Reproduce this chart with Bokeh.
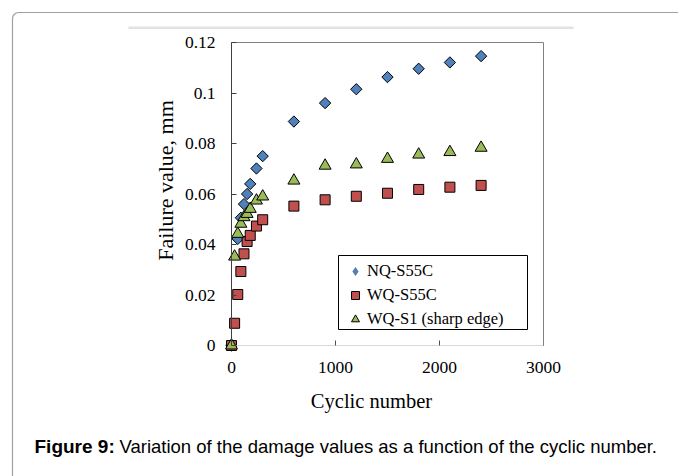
import math
from bokeh.plotting import figure
from bokeh.models import (Range1d, LinearAxis, FixedTicker, Legend, LegendItem,
                          Label, BoxAnnotation, ColumnDataSource)
from bokeh.embed import file_html
from bokeh.resources import INLINE

# ---------------- data ----------------
cycles_nq = [0, 60, 90, 120, 150, 180, 240, 300, 600, 900, 1200, 1500, 1800, 2100, 2400]
failure_nq = [0, 0.0422, 0.0506, 0.0560, 0.0600, 0.0640, 0.0701, 0.0750, 0.0887,
              0.0960, 0.1015, 0.1063, 0.1096, 0.1121, 0.1146]

cycles_wq = [0, 30, 60, 90, 120, 150, 180, 240, 300, 600, 900, 1200, 1500, 1800, 2100, 2400]
failure_wq = [0, 0.0088, 0.0202, 0.0293, 0.0363, 0.0412, 0.0436, 0.0473, 0.0498, 0.0552,
              0.0577, 0.0591, 0.0603, 0.0618, 0.0627, 0.0634]

cycles_s1 = [0, 30, 60, 90, 120, 150, 180, 240, 300, 600, 900, 1200, 1500, 1800, 2100, 2400]
failure_s1 = [0, 0.0352, 0.0442, 0.0482, 0.0508, 0.0521, 0.0541, 0.0574, 0.0590, 0.0653,
              0.0712, 0.0717, 0.0739, 0.0756, 0.0766, 0.0783]

series_names = ["NQ-S55C", "WQ-S55C", "WQ-S1 (sharp edge)"]
x_ticks = [0, 1000, 2000, 3000]
y_ticks = [0, 0.02, 0.04, 0.06, 0.08, 0.1, 0.12]
y_tick_labels = ["0", "0.02", "0.04", "0.06", "0.08", "0.1", "0.12"]
x_title = "Cyclic number"
y_title = "Failure value, mm"
caption_bold = "Figure 9:"
caption_text = "Variation of the damage values as a function of the cyclic number."

# ---------------- layout ----------------
W, H = 678, 476
X_MAX, Y_MAX = 3000, 0.12
X0, Y0 = 231, 345          # canvas px of the data origin
XR, YT = 543, 42           # canvas px of x=3000 and y=0.12
kx = (XR - X0) / X_MAX
ky = (Y0 - YT) / Y_MAX
x_lo = -X0 / kx
x_hi = X_MAX + (W - XR) / kx
y_lo = -(H - Y0) / ky
y_hi = Y_MAX + YT / ky

def sx(cx):
    return cx

def sy(cy):
    return H - cy

serif = "Liberation Serif"
sans = "Liberation Sans"

p = figure(width=W, height=H, x_range=Range1d(x_lo, x_hi), y_range=Range1d(y_lo, y_hi),
           output_backend="svg", toolbar_location=None,
           x_axis_type=None, y_axis_type=None,
           min_border=0, min_border_left=0, min_border_right=0,
           min_border_top=0, min_border_bottom=0,
           outline_line_color=None, background_fill_color="white",
           border_fill_color="white")

# card border and thin grey line of the page
p.add_layout(BoxAnnotation(left=sx(12), right=sx(720), top=sy(12), bottom=sy(520),
                           left_units="screen", right_units="screen",
                           top_units="screen", bottom_units="screen",
                           fill_color=None, line_color="#a0a0a0", line_alpha=1,
                           line_width=1.2, border_radius=6, level="underlay"))
p.add_layout(BoxAnnotation(left=sx(128), right=sx(573), top=sy(26), bottom=sy(28.5),
                           left_units="screen", right_units="screen",
                           top_units="screen", bottom_units="screen",
                           fill_color="#e2e2e2", fill_alpha=1, line_color=None,
                           level="underlay"))

# axes (all pinned at fixed data positions)
yax = LinearAxis(fixed_location=0, bounds=(0, Y_MAX), ticker=FixedTicker(ticks=y_ticks),
                 major_label_overrides={t: l for t, l in zip(y_ticks, y_tick_labels)})
yax.axis_line_color = "#404040"
yax.major_tick_line_color = "#404040"
yax.major_tick_in = 5
yax.major_tick_out = 0
yax.minor_tick_line_color = None
yax.major_label_text_font = serif
yax.major_label_text_font_size = "17.5px"
yax.major_label_text_color = "black"
yax.major_label_standoff = 16
p.add_layout(yax, "left")

xax = LinearAxis(fixed_location=0, bounds=(0, X_MAX), ticker=FixedTicker(ticks=x_ticks))
xax.axis_line_color = "#d9d9d9"
xax.major_tick_line_color = "#505050"
xax.major_tick_in = 5
xax.major_tick_out = 0
xax.minor_tick_line_color = None
xax.major_label_text_font = serif
xax.major_label_text_font_size = "17.5px"
xax.major_label_text_color = "black"
xax.major_label_standoff = 16
p.add_layout(xax, "below")

tax = LinearAxis(fixed_location=Y_MAX, bounds=(0, X_MAX), ticker=FixedTicker(ticks=[]))
tax.axis_line_color = "#808080"
tax.major_tick_line_color = None
tax.minor_tick_line_color = None
p.add_layout(tax, "above")

rax = LinearAxis(fixed_location=X_MAX, bounds=(0, Y_MAX), ticker=FixedTicker(ticks=[]))
rax.axis_line_color = "#808080"
rax.major_tick_line_color = None
rax.minor_tick_line_color = None
p.add_layout(rax, "right")

# data
r_nq = p.scatter("x", "y", source=ColumnDataSource(dict(x=cycles_nq, y=failure_nq)),
                 marker="square", angle=math.pi / 4, size=8,
                 fill_color="#4F81BD", line_color="black", line_width=1)
r_wq = p.scatter("x", "y", source=ColumnDataSource(dict(x=cycles_wq, y=failure_wq)),
                 marker="square", size=10,
                 fill_color="#C0504D", line_color="black", line_width=1)
r_s1 = p.scatter("x", "y", source=ColumnDataSource(dict(x=cycles_s1, y=failure_s1)),
                 marker="triangle", size=12,
                 fill_color="#9BBB59", line_color="black", line_width=1)
# legend-only glyph for the diamond key (legend keys are never rotated);
# a single NaN placeholder so the key has something to draw from
r_nq_key = p.scatter(x=[float("nan")], y=[float("nan")], marker="diamond", size=8,
                     fill_color="#4F81BD", line_color="#3a5f8c", line_width=0.6)

# legend
p.add_layout(BoxAnnotation(left=sx(338), right=sx(527), top=sy(255), bottom=sy(329),
                           left_units="screen", right_units="screen",
                           top_units="screen", bottom_units="screen",
                           fill_color="white", fill_alpha=1, line_color="black",
                           line_alpha=1, line_width=1))
legend = Legend(items=[LegendItem(label=n, renderers=[r]) for n, r in
                       zip(series_names, [r_nq_key, r_wq, r_s1])],
                location=(sx(345), sy(329)), orientation="vertical",
                border_line_color=None, background_fill_alpha=0,
                padding=3, spacing=4, margin=0,
                glyph_width=20, glyph_height=20, label_height=20, label_standoff=2,
                label_text_font=serif, label_text_font_size="16.5px",
                label_text_color="black")
p.add_layout(legend)

# axis titles
p.add_layout(Label(x=sx(165), y=sy(180), x_units="screen", y_units="screen",
                   text=y_title, angle=math.pi / 2, text_align="center",
                   text_baseline="middle", text_font=serif, text_font_size="22px",
                   text_color="black"))
p.add_layout(Label(x=sx(371), y=sy(400), x_units="screen", y_units="screen",
                   text=x_title, text_align="center", text_baseline="middle",
                   text_font=serif, text_font_size="20.5px", text_color="black"))

# caption
p.add_layout(Label(x=sx(34), y=sy(446), x_units="screen", y_units="screen",
                   text=caption_bold, text_align="left", text_baseline="middle",
                   text_font=sans, text_font_style="bold", text_font_size="19px",
                   text_color="black"))
p.add_layout(Label(x=sx(119), y=sy(446), x_units="screen", y_units="screen",
                   text=caption_text, text_align="left", text_baseline="middle",
                   text_font=sans, text_font_size="18.5px", text_color="black"))

open("out.html", "w").write(file_html(p, INLINE))
